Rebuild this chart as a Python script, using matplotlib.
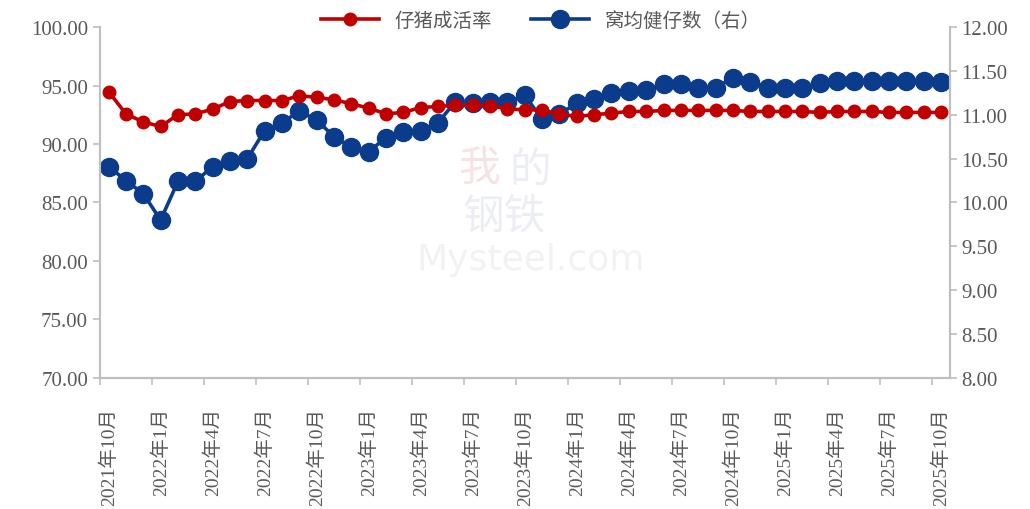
import matplotlib

matplotlib.use("Agg")
import matplotlib.pyplot as plt
import numpy as np

plt.rcParams["font.family"] = ["Liberation Serif", "Noto Sans CJK SC"]

# monthly, 2021-10 .. 2025-10
months = [f"{y}年{m}月" for y in range(2021, 2026) for m in range(1, 13)][9:58]

survival_rate = [
    94.48, 92.58, 91.88, 91.50, 92.50, 92.58, 92.98, 93.63, 93.72, 93.72,
    93.72, 94.12, 94.00, 93.78, 93.44, 93.07, 92.58, 92.70, 93.12, 93.21,
    93.30, 93.30, 93.29, 93.00, 92.92, 92.92, 92.55, 92.36, 92.50, 92.64,
    92.78, 92.78, 92.87, 92.87, 92.87, 92.87, 92.87, 92.78, 92.78, 92.78,
    92.78, 92.70, 92.78, 92.78, 92.78, 92.70, 92.70, 92.70, 92.70,
]
litter_size = [
    10.41, 10.25, 10.10, 9.80, 10.24, 10.24, 10.41, 10.47, 10.50, 10.82,
    10.91, 11.04, 10.94, 10.75, 10.63, 10.58, 10.74, 10.80, 10.82, 10.91,
    11.15, 11.13, 11.15, 11.14, 11.22, 10.95, 11.01, 11.13, 11.18, 11.25,
    11.27, 11.28, 11.35, 11.35, 11.31, 11.31, 11.42, 11.37, 11.31, 11.31,
    11.31, 11.36, 11.38, 11.39, 11.38, 11.38, 11.38, 11.38, 11.37,
]

red = "#C00000"
blue = "#0B3C8C"
grey = "#595959"
spine = "#BFBFBF"

x = np.arange(len(months))

fig = plt.figure(figsize=(10.3, 5.1), dpi=100)
ax = fig.add_axes([0.097, 0.257, 0.825, 0.688])
ax2 = ax.twinx()

# faint watermark
fig.text(0.465, 0.665, "我", fontsize=30, color="#F6E4E4", ha="center",
         va="center", zorder=0, family=["Noto Sans CJK SC"])
fig.text(0.515, 0.665, "的", fontsize=30, color="#ECEEF3", ha="center",
         va="center", zorder=0, family=["Noto Sans CJK SC"])
fig.text(0.49, 0.575, "钢铁", fontsize=30, color="#ECEEF3", ha="center",
         va="center", zorder=0, family=["Noto Sans CJK SC"])
fig.text(0.515, 0.49, "Mysteel.com", fontsize=26, color="#F2F2F2",
         ha="center", va="center", zorder=0, family=["DejaVu Sans"])

l1, = ax.plot(x, survival_rate, color=red, lw=2.6, marker="o", ms=9,
              label="仔猪成活率", zorder=3)
l2, = ax2.plot(x, litter_size, color=blue, lw=2.6, marker="o", ms=13,
               label="窝均健仔数（右）", zorder=3)
ax.set_zorder(ax2.get_zorder() + 1)
ax.patch.set_visible(False)

ax.set_xlim(-0.5, len(months) - 0.5)
ax.set_ylim(70, 100)
ax2.set_ylim(8, 12)
ax.set_yticks(np.arange(70, 100.1, 5))
ax.set_yticklabels([f"{v:.2f}" for v in np.arange(70, 100.1, 5)])
ax2.set_yticks(np.arange(8, 12.01, 0.5))
ax2.set_yticklabels([f"{v:.2f}" for v in np.arange(8, 12.01, 0.5)])

# tick marks on category boundaries, labels on category centres
ax.set_xticks(np.arange(-0.5, len(months) - 1, 3))
ax.set_xticklabels([])
ax.set_xticks(x[::3], minor=True)
ax.set_xticklabels(months[::3], minor=True, rotation=90, fontsize=14, color=grey)
ax.tick_params(axis="x", which="minor", length=0, pad=21)
ax.tick_params(axis="x", which="major", length=5, color=spine, width=1.2)

for a in (ax, ax2):
    a.tick_params(axis="y", labelsize=15, labelcolor=grey, color=spine,
                  length=5, width=1.2)
    for s in a.spines.values():
        s.set_color(spine)
        s.set_linewidth(1.5)
    a.spines["top"].set_visible(False)

fig.legend(handles=[l1, l2], loc="upper center", bbox_to_anchor=(0.525, 1.01),
           ncol=2, frameon=False, fontsize=14, labelcolor=grey,
           handlelength=3.0, columnspacing=2.0)

fig.savefig("out.png", dpi=100)
plt.close(fig)
